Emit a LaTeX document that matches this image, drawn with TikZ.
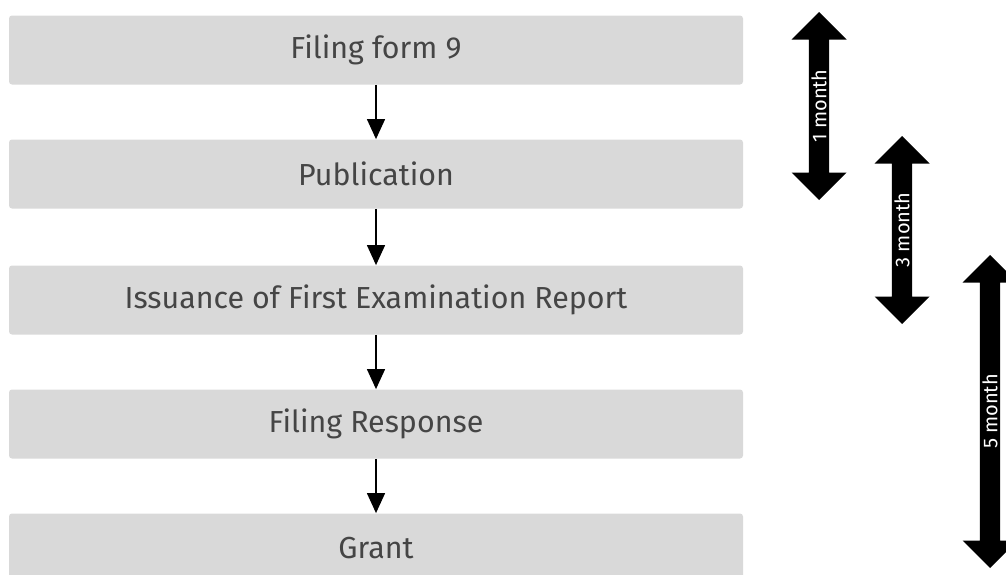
\documentclass[tikz,border=0pt]{standalone}
\usepackage{fontspec}
\setmainfont{Fira Sans}
\usetikzlibrary{shapes.arrows, arrows.meta}
\definecolor{boxgray}{HTML}{D9D9D9}
\definecolor{textgray}{HTML}{454545}
\tikzstyle{stage} = [rectangle, rounded corners=1.5pt, minimum width=367pt, minimum height=34.5pt, text centered, fill=boxgray, text=textgray, font=\fontsize{15.2}{17}\selectfont]
\tikzstyle{span} = [double arrow, rotate=90, fill=black, text=white, inner sep=0pt, minimum width=27.5pt, double arrow head extend=6.75pt, font=\fontsize{10}{12}\selectfont]
\tikzstyle{arrow} = [line width=0.65pt,->,>={Triangle[width=9pt,length=10pt]}]

\begin{document}
\begin{tikzpicture}[node distance=62pt]
	\useasboundingbox (0,0) rectangle (503pt,-287pt);

	\node (form) [stage] at (188pt,-25pt) {Filing form 9};
	\node (pub) [stage, below of=form] {Publication};
	\node (fer) [stage, below of=pub, yshift=-1pt] {Issuance of First Examination Report};
	\node (resp) [stage, below of=fer] {Filing Response};
	\node (grant) [stage, below of=resp] {Grant};

	\draw [arrow] (form) -- (pub);
	\draw [arrow] (pub) -- (fer);
	\draw [arrow] (fer) -- (resp);
	\draw [arrow] (resp) -- (grant);

	\node (one) [span, minimum height=94pt] at (409.5pt,-53pt) {1 month};
	\node (three) [span, minimum height=94pt] at (451pt,-115pt) {3 month};
	\node (five) [span, minimum height=156.5pt] at (495pt,-205.75pt) {5 month};

\end{tikzpicture}
\end{document}
